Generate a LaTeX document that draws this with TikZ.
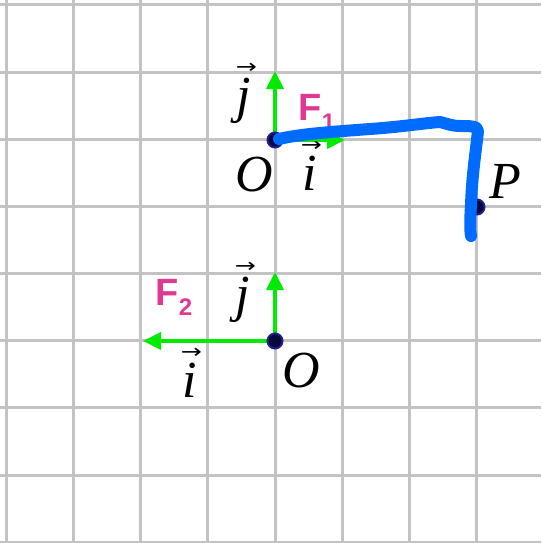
\documentclass[tikz,border=0pt]{standalone}
\usepackage{fontspec}
\usepackage{graphicx}
\setmainfont{Liberation Serif}
\newfontfamily\sansbold{Liberation Sans}
\newfontfamily\arrowfont{DejaVu Sans}
\usetikzlibrary{arrows.meta}
\definecolor{gridgray}{HTML}{C3C3C3}
\definecolor{vecgreen}{RGB}{0,235,0}
\definecolor{penblue}{RGB}{0,108,255}
\definecolor{forcepink}{RGB}{222,58,145}
\definecolor{dotnavy}{RGB}{8,8,60}
\definecolor{dotrim}{RGB}{30,30,140}
\newcommand{\vecit}[2]{\ooalign{\itshape #1\cr\hidewidth\kern#2\raisebox{39pt}{\scalebox{0.9}[0.7]{\fontsize{28}{28}\selectfont\arrowfont\upshape →}}\hidewidth\cr}}
\tikzset{
  gridline/.style={gridgray,line width=3pt},
  vecarrow/.style={vecgreen,line width=4pt,-{Triangle[length=18pt,width=17pt]}},
  ptdot/.style={circle,fill=dotnavy,draw=dotrim,line width=2pt,minimum size=15pt,inner sep=0pt},
  lbl/.style={inner sep=0pt,anchor=base,font=\fontsize{52}{52}\selectfont\itshape},
  forcelbl/.style={inner sep=0pt,anchor=base,text=forcepink,font=\fontsize{38}{38}\selectfont\sansbold\bfseries},
  pen/.style={penblue,line width=12pt,line cap=round,line join=round}
}
\begin{document}
\begin{tikzpicture}[x=1pt,y=-1pt]
\useasboundingbox (0,0) rectangle (541,543);
\fill[white] (0,0) rectangle (541,543);
% grid
\foreach \k in {0,...,7} {
  \draw[gridline] ({6.5+67.15*\k},0) -- ({6.5+67.15*\k},543);
}
\foreach \k in {0,...,8} {
  \draw[gridline] (0,{5+67.15*\k}) -- (541,{5+67.15*\k});
}
% coordinates
\coordinate (j1tip) at (275,71);
\coordinate (i1tip) at (345,140);
\coordinate (j2tip) at (275,272);
\coordinate (i2tip) at (143,341);
% green vectors
\draw[vecarrow] (275,140) -- (j1tip);
\draw[vecarrow] (275,140) -- (i1tip);
\draw[vecarrow] (275,341) -- (j2tip);
\draw[vecarrow] (275,341) -- (i2tip);
% points
\node[ptdot] (O1) at (275,140) {};
\node[ptdot] (O2) at (275,341) {};
\node[ptdot] (P) at (477,207) {};
% labels
\node[lbl] (j1) at (244,112) {\vecit{j}{5pt}};
\node[lbl] (O1l) at (254,191) {O};
\node[lbl] (i1) at (310,190) {\vecit{i}{3pt}};
\node[forcelbl] (F1) at (317,120) {F\raisebox{-10pt}{\fontsize{24}{24}\selectfont 1}};
\node[lbl] (j2) at (243,311) {\vecit{j}{5pt}};
\node[lbl] (O2l) at (301,387) {O};
\node[lbl] (i2) at (190,397) {\vecit{i}{3pt}};
\node[forcelbl] (F2) at (174,305) {F\raisebox{-10pt}{\fontsize{24}{24}\selectfont 2}};
\node[lbl] (Pl) at (505,198) {P};
% hand-drawn blue stroke
\draw[pen] (279,139) .. controls (300,134) and (330,132) .. (370,129)
  .. controls (400,127) and (425,123) .. (440,122)
  .. controls (448,124) and (452,126) .. (460,126)
  .. controls (470,126) and (478,126) .. (478,131)
  .. controls (476,150) and (472,175) .. (471,205)
  .. controls (470,220) and (470,230) .. (471,236);
\end{tikzpicture}
\end{document}
